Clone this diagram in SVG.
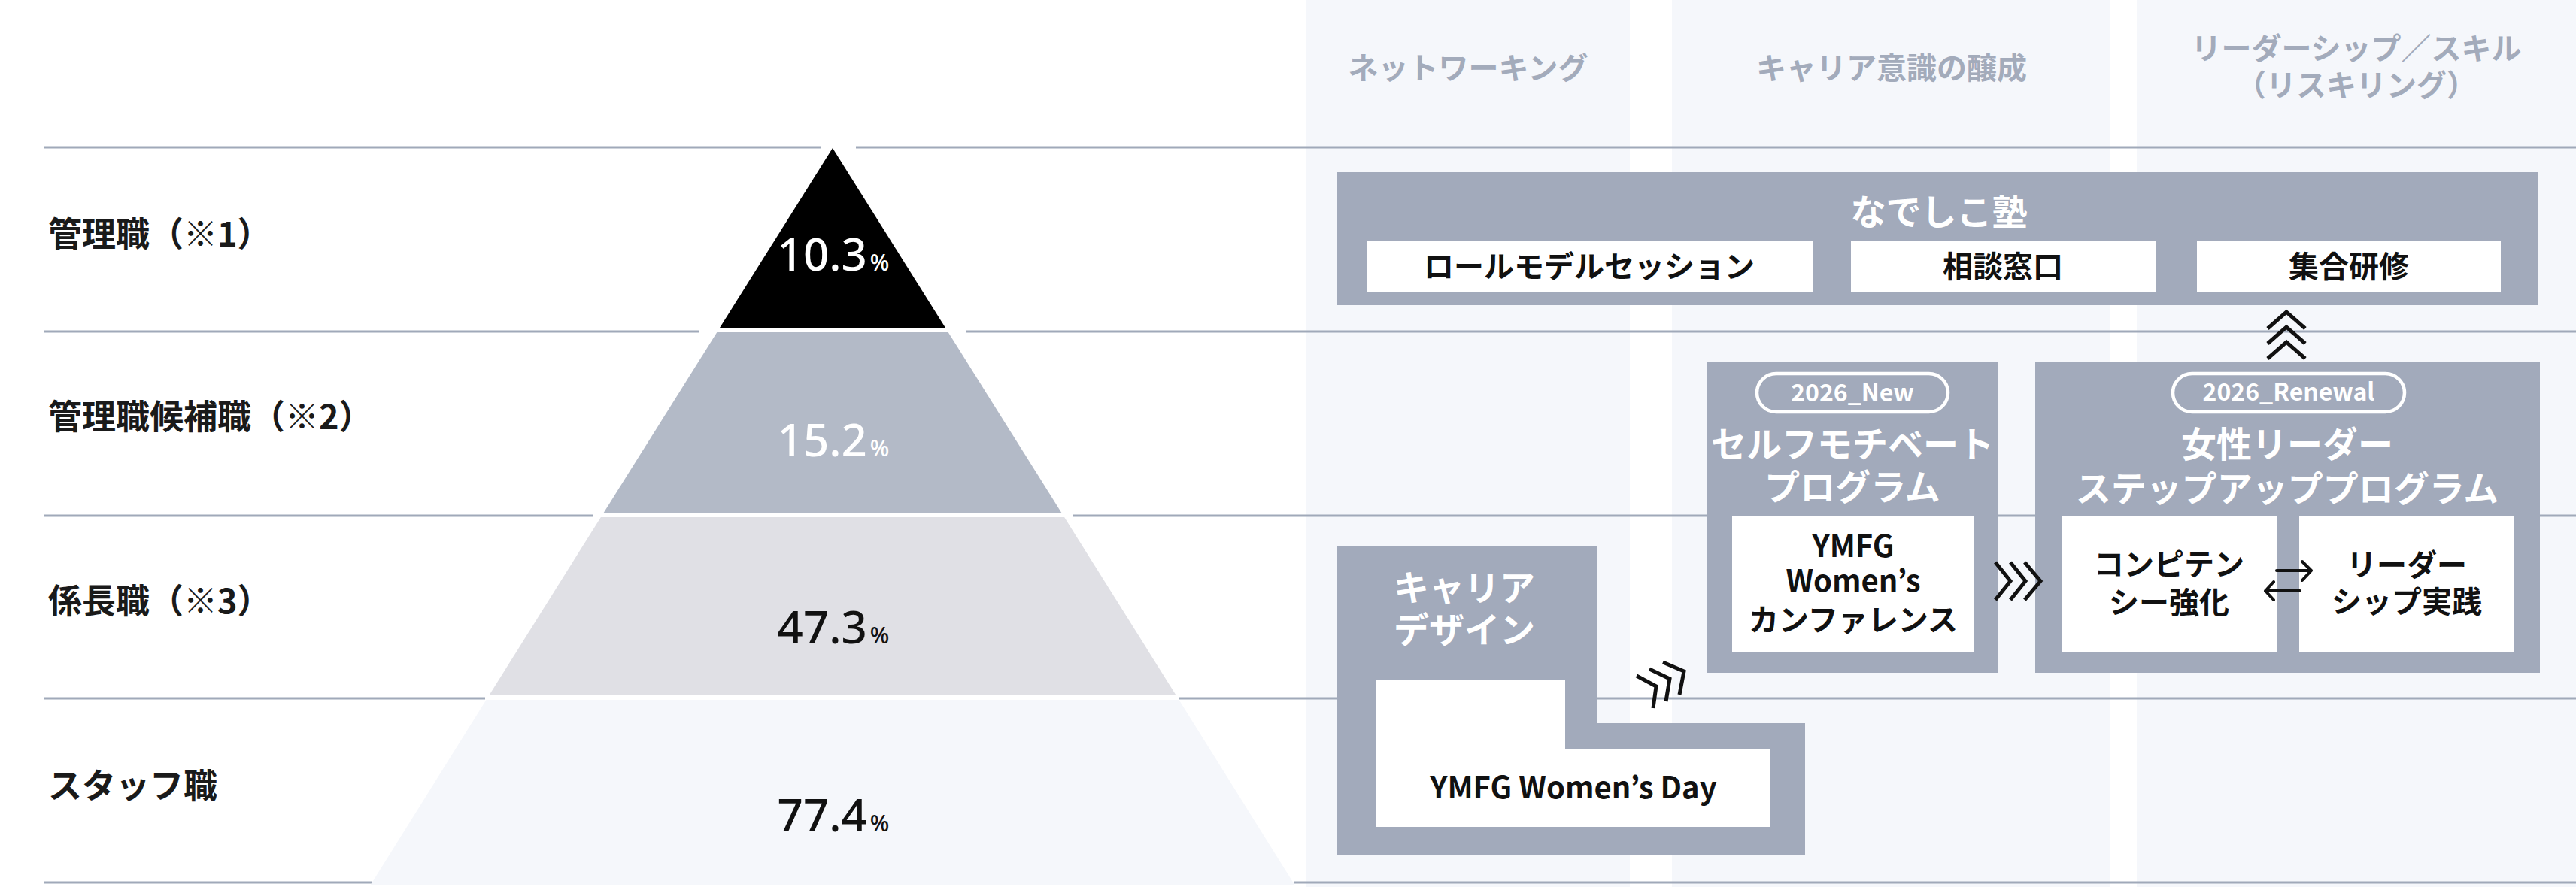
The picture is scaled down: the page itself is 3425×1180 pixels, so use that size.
<svg xmlns="http://www.w3.org/2000/svg" width="3425" height="1180" viewBox="0 0 3425 1180">
<style>
.line{stroke:#a0a9b9;stroke-width:3;fill:none}
.col{fill:#f5f7fb}
.box{fill:#a2aabb}
.inner{fill:#ffffff}
.jp{font-family:"Noto Sans CJK JP","Noto Sans",sans-serif;font-weight:700}
.hdr{font-size:40px;fill:#a3abbb;text-anchor:middle}
.lbl{font-size:45px;fill:#1a1a1a}
.ttl{font-size:47px;fill:#ffffff;text-anchor:middle}
.itm{font-size:40px;fill:#111111;text-anchor:middle}
.pct{font-family:"Noto Sans","Open Sans",sans-serif;font-weight:500;font-size:60px;text-anchor:middle}
.pct tspan.u{font-size:30px}
.pill{fill:none;stroke:#ffffff;stroke-width:4.5}
.pilltxt{font-family:"Noto Sans CJK JP","Noto Sans",sans-serif;font-weight:700;font-size:32px;fill:#ffffff;text-anchor:middle}
.chev{fill:none;stroke:#111111;stroke-width:5;stroke-linejoin:miter}
.arr{fill:none;stroke:#111111;stroke-width:4;stroke-linecap:round;stroke-linejoin:round}
</style>
<rect width="3425" height="1180" fill="#ffffff"/>
<g id="columns">
<rect class="col" x="1736" y="0" width="431" height="1180"/>
<rect class="col" x="2223" y="0" width="583" height="1180"/>
<rect class="col" x="2841" y="0" width="584" height="1180"/>
</g>
<g id="rows">
<line class="line" x1="58" y1="196" x2="1092" y2="196"/><line class="line" x1="1138" y1="196" x2="3425" y2="196"/>
<line class="line" x1="58" y1="441" x2="930" y2="441"/><line class="line" x1="1284" y1="441" x2="3425" y2="441"/>
<line class="line" x1="58" y1="686" x2="789" y2="686"/><line class="line" x1="1426" y1="686" x2="3425" y2="686"/>
<line class="line" x1="58" y1="929" x2="645" y2="929"/><line class="line" x1="1568" y1="929" x2="3425" y2="929"/>
<line class="line" x1="58" y1="1174" x2="494" y2="1174"/><line class="line" x1="1720" y1="1174" x2="3425" y2="1174"/>
</g>
<g id="column-headers" class="jp">
<text id="hdr-networking" class="hdr" x="1952" y="105">ネットワーキング</text>
<text id="hdr-career" class="hdr" x="2515" y="105">キャリア意識の醸成</text>
<text id="hdr-leadership" class="hdr" x="3133"><tspan x="3133" y="79">リーダーシップ／スキル</tspan><tspan x="3133" y="128">（リスキリング）</tspan></text>
</g>
<g id="row-labels" class="jp">
<text id="lbl-manager" class="lbl" x="64" y="328">管理職（※1）</text>
<text id="lbl-candidate" class="lbl" x="64" y="571">管理職候補職（※2）</text>
<text id="lbl-chief" class="lbl" x="64" y="816">係長職（※3）</text>
<text id="lbl-staff" class="lbl" x="64" y="1062">スタッフ職</text>
</g>
<g id="pyramid">
<g id="tier-1"><polygon points="1107,197 1257,436 957,436" fill="#000000"/><text class="pct" x="1108" y="360" fill="#ffffff">10.3<tspan class="u" dx="4">%</tspan></text></g>
<g id="tier-2"><polygon points="953.3,442 1260.7,442 1411.3,682 802.7,682" fill="#b3bac7"/><text class="pct" x="1108" y="607" fill="#ffffff">15.2<tspan class="u" dx="4">%</tspan></text></g>
<g id="tier-3"><polygon points="798.9,688 1415.1,688 1563.7,925 650.3,925" fill="#e0e0e5"/><text class="pct" x="1108" y="856" fill="#111111">47.3<tspan class="u" dx="4">%</tspan></text></g>
<g id="tier-4"><polygon points="646.5,931 1567.5,931 1721.2,1177 492.8,1177" fill="#f5f7fb"/><text class="pct" x="1108" y="1106" fill="#111111">77.4<tspan class="u" dx="4">%</tspan></text></g>
</g>
<g id="nadeshiko" class="jp">
<rect class="box" x="1777" y="229" width="1598" height="177"/>
<text class="ttl" x="2578" y="299">なでしこ塾</text>
<rect class="inner" x="1817" y="321" width="593" height="67"/>
<text class="itm" x="2113" y="369">ロールモデルセッション</text>
<rect class="inner" x="2461" y="321" width="405" height="67"/>
<text class="itm" x="2663" y="369">相談窓口</text>
<rect class="inner" x="2921" y="321" width="404" height="67"/>
<text class="itm" x="3123" y="369">集合研修</text>
</g>
<g id="career-design" class="jp">
<polygon class="box" points="1777,727 2124,727 2124,962 2400,962 2400,1137 1777,1137"/>
<polygon class="inner" points="1830,904 2081,904 2081,996 2354,996 2354,1100 1830,1100"/>
<text class="ttl" x="1853" y="799" style="text-anchor:start">キャリア</text>
<text class="ttl" x="1853" y="855" style="text-anchor:start">デザイン</text>
<text class="itm" x="2092" y="1062">YMFG Women’s Day</text>
</g>
<g id="self-motivate" class="jp">
<rect class="box" x="2269" y="481" width="388" height="414"/>
<rect class="pill" x="2336" y="497" width="254" height="51" rx="25.5"/>
<text class="pilltxt" x="2463" y="534">2026_New</text>
<text class="ttl" x="2463" y="608">セルフモチベート</text>
<text class="ttl" x="2463" y="665">プログラム</text>
<rect class="inner" x="2303" y="686" width="322" height="182"/>
<text class="itm" x="2464" y="741">YMFG</text>
<text class="itm" x="2464" y="787">Women’s</text>
<text class="itm" x="2464" y="839">カンファレンス</text>
</g>
<g id="leader-stepup" class="jp">
<rect class="box" x="2706" y="481" width="671" height="414"/>
<rect class="pill" x="2889" y="497" width="308" height="51" rx="25.5"/>
<text class="pilltxt" x="3043" y="533">2026_Renewal</text>
<text class="ttl" x="3041" y="608">女性リーダー</text>
<text class="ttl" x="3041" y="667">ステップアッププログラム</text>
<g id="competency"><rect class="inner" x="2741" y="686" width="286" height="182"/>
<text class="itm" x="2884" y="765">コンピテン</text>
<text class="itm" x="2884" y="816">シー強化</text></g>
<g id="leadership-practice"><rect class="inner" x="3057" y="686" width="286" height="182"/>
<text class="itm" x="3200" y="766">リーダー</text>
<text class="itm" x="3200" y="815">シップ実践</text></g>
</g>
<g id="connectors">
<g id="up-chevrons">
<polyline class="chev" points="3015,437 3040,415 3065,437"/>
<polyline class="chev" points="3015,457 3040,435 3065,457"/>
<polyline class="chev" points="3015,477 3040,455 3065,477"/>
</g>
<g id="diag-chevrons">
<polyline class="chev" points="2176,899 2202,913 2198,942"/>
<polyline class="chev" points="2193,890 2220,903 2215,933"/>
<polyline class="chev" points="2211,881 2239,893 2233,924"/>
</g>
<g id="right-chevrons">
<polyline class="chev" points="2653,748 2673,773 2653,798"/>
<polyline class="chev" points="2673,748 2693,773 2673,798"/>
<polyline class="chev" points="2692,748 2713,773 2692,798"/>
</g>
<g id="swap-arrows">
<path class="arr" d="M3027,759 H3073 M3061,747 L3073,759 L3061,772"/>
<path class="arr" d="M3058,786 H3012 M3023,774 L3012,786 L3023,798"/>
</g>
</g>
</svg>
